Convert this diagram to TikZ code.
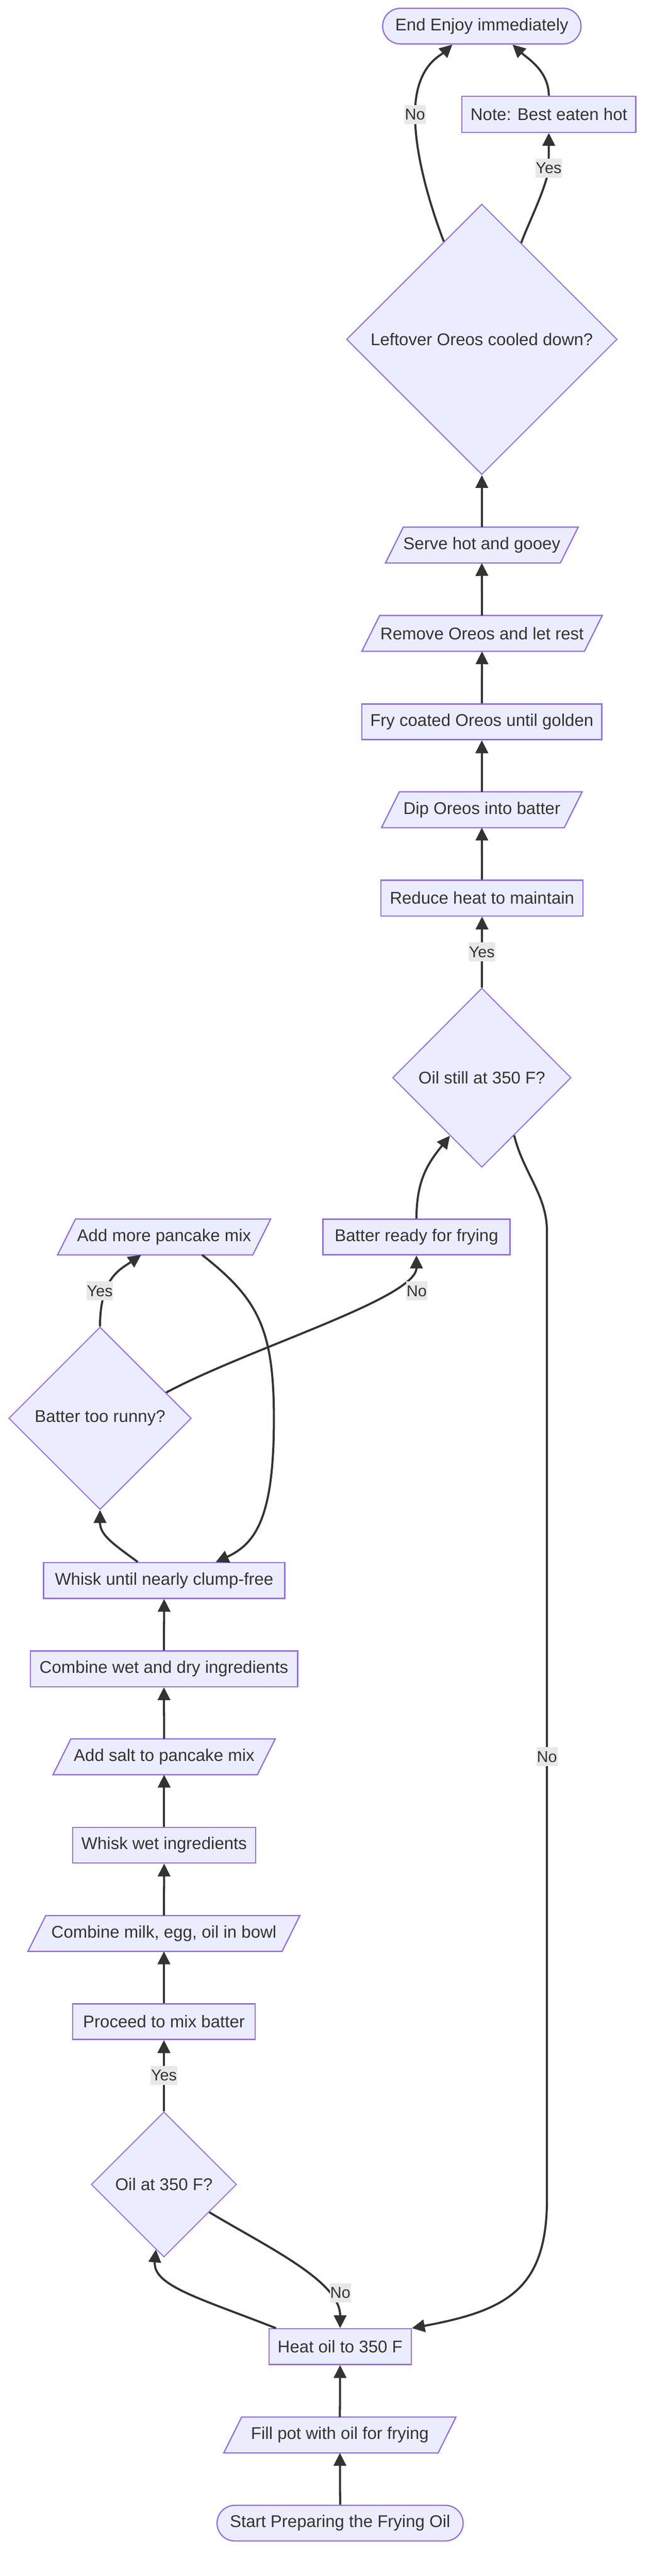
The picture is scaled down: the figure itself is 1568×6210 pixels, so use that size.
\documentclass[tikz,border=0pt]{standalone}
\usepackage{fontspec}
\setmainfont{Liberation Sans}
\usetikzlibrary{shapes.geometric,arrows.meta,calc,backgrounds}
\definecolor{nfill}{HTML}{ECECFF}
\definecolor{bord}{HTML}{9370DB}
\definecolor{lnc}{HTML}{333333}
\definecolor{txt}{HTML}{333333}
\definecolor{lblfill}{HTML}{E8E8E8}
\newcommand{\nodefont}{\fontsize{41pt}{49pt}\selectfont}
\newcommand{\lblfont}{\fontsize{38pt}{46pt}\selectfont}
\begin{document}
\begin{tikzpicture}[x=1pt,y=-1pt,
  base/.style={font=\nodefont, text=txt, inner sep=0pt, align=center},
  procbox/.style={base, draw=bord, fill=nfill, line width=3pt, minimum height=86pt},
  termbox/.style={procbox, rounded corners=43pt},
  decbox/.style={base, diamond, aspect=1, draw=bord, fill=nfill, line width=2.5pt},
  iobox/.style={base, minimum height=86pt},
  iodraw/.style={draw=bord, fill=nfill, line width=3pt},
  conn/.style={draw=lnc, line width=5pt, -{Triangle[length=31pt,width=30pt]}},
  lbl/.style={font=\lblfont, text=txt, fill=lblfill, inner xsep=1pt, inner ysep=0pt, minimum height=46pt}
]
\useasboundingbox (0,0) rectangle (1568,6210);

% nodes
\node[termbox, minimum width=478pt] (endn) at (1161,63) {End Enjoy immediately};
\node[procbox, minimum width=419pt, minimum height=87pt] (note) at (1322.5,275.5) {Note: Best eaten hot};
\node[decbox, minimum width=652pt, minimum height=652pt] (lo) at (1161,818) {Leftover Oreos cooled down?};
\node[iobox, minimum width=421pt] (serve) at (1161,1314) {Serve hot and gooey};
\node[iobox, minimum width=536pt] (remove) at (1161.5,1527) {Remove Oreos and let rest};
\node[procbox, minimum width=578pt] (fry) at (1161,1740) {Fry coated Oreos until golden};
\node[iobox, minimum width=440pt] (dip) at (1161,1952) {Dip Oreos into batter};
\node[procbox, minimum width=487pt] (reduce) at (1161.5,2165) {Reduce heat to maintain};
\node[decbox, minimum width=430pt, minimum height=432pt] (os) at (1161,2598) {Oil still at 350 F?};
\node[iobox, minimum width=470pt] (amp) at (395.5,2982) {Add more pancake mix};
\node[procbox, minimum width=451pt] (br) at (1003.5,2982) {Batter ready for frying};
\node[decbox, minimum width=440pt, minimum height=440pt] (btr) at (241,3419) {Batter too runny?};
\node[procbox, minimum width=581pt] (wu) at (395.5,3810) {Whisk until nearly clump-free};
\node[procbox, minimum width=644pt] (cwd) at (395,4023) {Combine wet and dry ingredients};
\node[iobox, minimum width=492pt] (salt) at (395.5,4235) {Add salt to pancake mix};
\node[procbox, minimum width=441pt] (ww) at (395.5,4448) {Whisk wet ingredients};
\node[iobox, minimum width=612pt] (milk) at (395,4661) {Combine milk, egg, oil in bowl};
\node[procbox, minimum width=440pt] (proc) at (395,4873.5) {Proceed to mix batter};
\node[decbox, minimum width=350pt, minimum height=350pt] (o350) at (395,5266) {Oil at 350 F?};
\node[procbox, minimum width=343pt] (heat) at (819.5,5657) {Heat oil to 350 F};
\node[iobox, minimum width=516pt] (fillpot) at (819,5870) {Fill pot with oil for frying};
\node[termbox, minimum width=593pt] (start) at (819.5,6082.5) {Start Preparing the Frying Oil};

% parallelogram bodies
\begin{pgfonlayer}{background}
\foreach \n in {serve,remove,dip,amp,salt,milk,fillpot}
  \draw[iodraw] ([xshift=21.5pt]\n.north west) -- ([xshift=21.5pt]\n.north east)
     -- ([xshift=-21.5pt]\n.south east) -- ([xshift=-21.5pt]\n.south west) -- cycle;
\end{pgfonlayer}

% connectors
\draw[conn] (start.north) -- (fillpot.south);
\draw[conn] (fillpot.north) -- (heat.south);
\draw[conn] ([xshift=-154.5pt]heat.north) .. controls (480,5540) and (368,5510) .. ($(o350.south)!0.11!(o350.west)$);
\draw[conn] ($(o350.south)!0.62!(o350.east)$) .. controls (650,5420) and (820,5500) .. (heat.north);
\draw[conn] (o350.north) -- (proc.south);
\draw[conn] (proc.north) -- (milk.south);
\draw[conn] (milk.north) -- (ww.south);
\draw[conn] (ww.north) -- (salt.south);
\draw[conn] (salt.north) -- (cwd.south);
\draw[conn] (cwd.north) -- (wu.south);
\draw[conn] ([xshift=-63.5pt]wu.north) .. controls (270,3720) and (241,3700) .. (btr.south);
\draw[conn] (btr.north) .. controls (241,3080) and (290,3060) .. ([xshift=-55.5pt]amp.south);
\draw[conn] ([xshift=91.5pt]amp.south) .. controls (620,3130) and (660,3200) .. (660,3420)
   .. controls (660,3650) and (620,3720) .. ([xshift=124.5pt]wu.north);
\draw[conn] ($(btr.north)!0.72!(btr.east)$) .. controls (600,3250) and (1003.5,3130) .. (br.south);
\draw[conn] (br.north) .. controls (1003.5,2840) and (1035,2800) .. ($(os.south)!0.356!(os.west)$);
\draw[conn] (os.north) -- (reduce.south);
\draw[conn] ($(os.south)!0.36!(os.east)$) .. controls (1262,2830) and (1318,2880) .. (1318,2970)
   -- (1318,5300) .. controls (1318,5520) and (1220,5570) .. (heat.north east);
\draw[conn] (reduce.north) -- (dip.south);
\draw[conn] (dip.north) -- (fry.south);
\draw[conn] (fry.north) -- (remove.south);
\draw[conn] (remove.north) -- (serve.south);
\draw[conn] (serve.north) -- (lo.south);
\draw[conn] ($(lo.north)!0.28!(lo.west)$) .. controls (1040,505) and (1000,380) .. (1000,276)
   .. controls (1000,160) and (1060,135) .. ([xshift=-71pt]endn.south);
\draw[conn] ($(lo.north)!0.29!(lo.east)$) .. controls (1270,545) and (1318,450) .. (1322,405) -- (note.south);
\draw[conn] (note.north) .. controls (1322,170) and (1270,140) .. ([xshift=74pt]endn.south);

% edge labels
\node[lbl] (l1) at (1000,276) {No};
\node[lbl] (l2) at (1322,405) {Yes};
\node[lbl] (l3) at (1161,2295) {Yes};
\node[lbl] (l4) at (240.5,3112) {Yes};
\node[lbl] (l5) at (1004,3112) {No};
\node[lbl] (l6) at (1318,4235) {No};
\node[lbl] (l7) at (395,5003) {Yes};
\node[lbl] (l8) at (820,5527) {No};
\end{tikzpicture}
\end{document}
